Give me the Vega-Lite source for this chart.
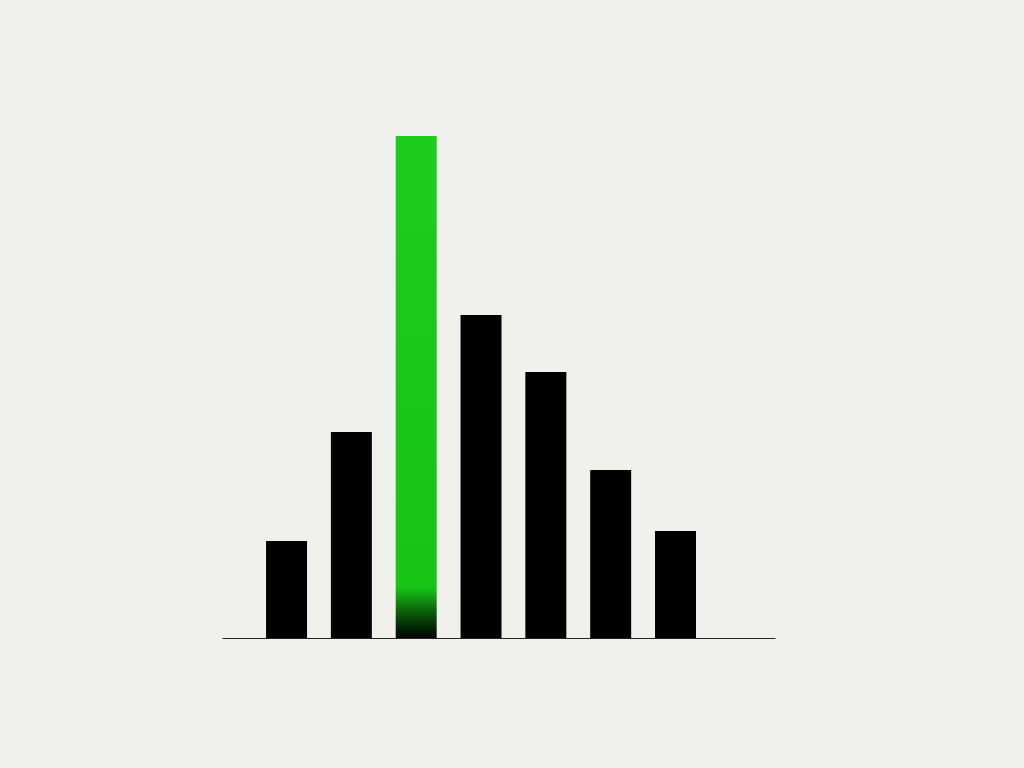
{
  "$schema": "https://vega.github.io/schema/vega-lite/v6.json",
  "autosize": "none",
  "padding": {"left": 222, "top": 118, "right": 249, "bottom": 130},
  "width": 553,
  "height": 520,
  "background": "#f0f0ed",
  "config": {"view": {"stroke": null}},
  "data": {
    "values": [
      {"cat": "A", "value": 97, "highlight": false},
      {"cat": "B", "value": 206, "highlight": false},
      {"cat": "C", "value": 502, "highlight": true},
      {"cat": "D", "value": 323, "highlight": false},
      {"cat": "E", "value": 266, "highlight": false},
      {"cat": "F", "value": 168, "highlight": false},
      {"cat": "G", "value": 107, "highlight": false}
    ]
  },
  "encoding": {
    "x": {
      "field": "cat",
      "type": "nominal",
      "title": null,
      "scale": {
        "domain": ["A", "B", "C", "D", "E", "F", "G"],
        "paddingInner": 0.368,
        "paddingOuter": 0.949,
        "align": 0.358
      },
      "axis": {
        "labels": false,
        "ticks": false,
        "domain": true,
        "domainColor": "#222222",
        "domainWidth": 1.2,
        "grid": false
      }
    },
    "y": {
      "field": "value",
      "type": "quantitative",
      "title": null,
      "scale": {"domain": [0, 520], "nice": false},
      "axis": null
    }
  },
  "layer": [
    {
      "transform": [{"filter": "!datum.highlight"}],
      "mark": {"type": "bar", "color": "#000000"}
    },
    {
      "transform": [{"filter": "datum.highlight"}],
      "mark": {
        "type": "bar",
        "color": {
          "gradient": "linear",
          "x1": 0, "y1": 0, "x2": 0, "y2": 1,
          "stops": [
            {"offset": 0, "color": "#1ccc1c"},
            {"offset": 0.9, "color": "#18c418"},
            {"offset": 0.95, "color": "#0a5a0a"},
            {"offset": 1, "color": "#000000"}
          ]
        }
      }
    }
  ]
}
